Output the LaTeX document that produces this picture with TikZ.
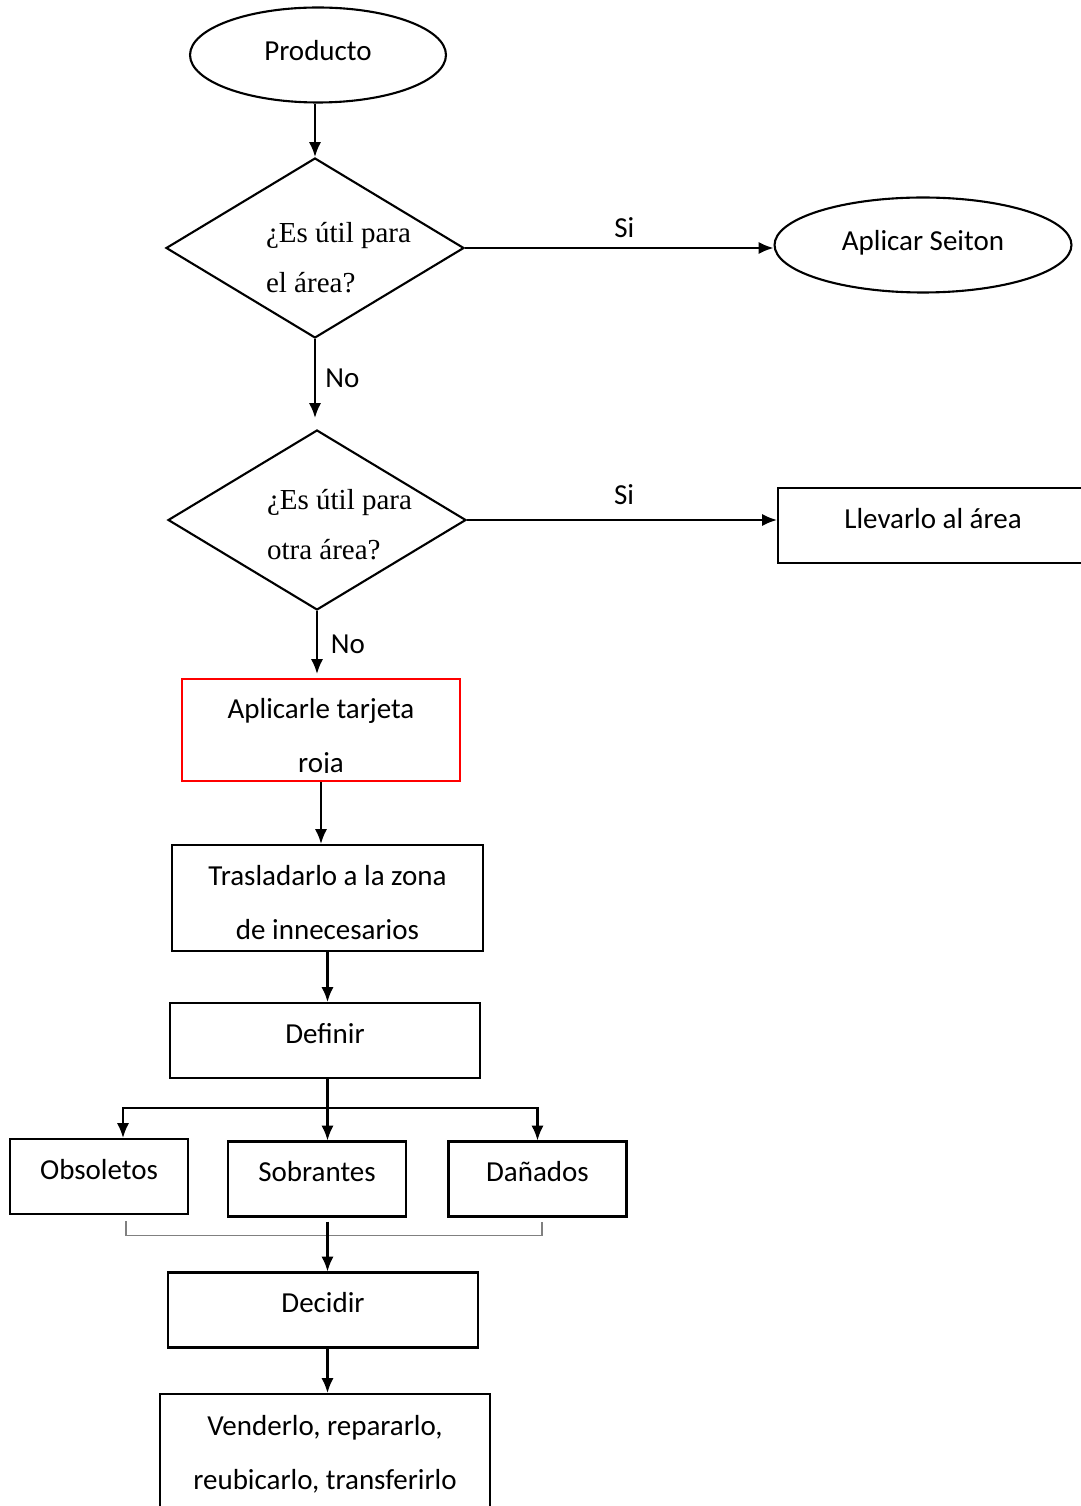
\documentclass[tikz,border=0pt]{standalone}
\usepackage{fontspec}
\setmainfont{Carlito}
\newfontfamily\timesfont{Liberation Serif}
\usepackage{tikz}
\usetikzlibrary{positioning,shapes,arrows.meta,calc}

\begin{document}
\begin{tikzpicture}[x=0.02cm, y=-0.02cm, line width=1.2pt, font=\fontsize{16.5}{30.7}\selectfont]
        \tikzset{
            >={Latex[length=8.5pt,width=7pt]},
            frame/.style={draw, ellipse, minimum width=5.12cm, minimum height=1.9cm, text height=12pt, text depth=6pt},
            decision/.style={draw, diamond, minimum width=5.96cm, minimum height=3.6cm, inner sep=0pt},
            question/.style={font=\timesfont\fontsize{16.5}{28.5}\selectfont, align=left, inner sep=0pt, anchor=west},
            stepbox/.style={draw, rectangle, minimum width=6.2cm, minimum height=1.5cm, text height=12pt, text depth=9pt},
            smallbox/.style={stepbox, minimum width=3.56cm},
            twobox/.style={draw, rectangle, minimum width=6.22cm, minimum height=2.12cm, align=center, text height=47pt},
            bracket/.style={draw=gray, line width=0.6pt},
        }
        \useasboundingbox (0,0) rectangle (1080,1506);

        \node[frame] (producto) at (318,55) {Producto};
        \node[decision] (util) at (315,248) {};
        \node[question] at (265,258) {¿Es útil para\\el área?};
        \node[frame, minimum width=5.94cm] (seiton) at (923,245) {Aplicar Seiton};
        \node[decision] (otra) at (317,520) {};
        \node[question] at (266,525) {¿Es útil para\\otra área?};
        \node[stepbox] (llevar) at (933,525.5) {Llevarlo al área};
        \node[draw=red, minimum width=5.56cm, minimum height=2.04cm] (tarjeta) at (321,730) {};
        \begin{scope}
            \clip (tarjeta.north west) rectangle ([yshift=0.2cm]tarjeta.south east);
            \node[align=center] at (321,738) {Aplicarle tarjeta\\roja};
        \end{scope}
        \node[twobox] (traslado) at (327.5,898) {Trasladarlo a la zona\\de innecesarios};
        \node[stepbox] (definir) at (325,1040.5) {Definir};
        \node[smallbox] (obsoletos) at (99,1176.5) {Obsoletos};
        \node[smallbox] (sobrantes) at (317,1179) {Sobrantes};
        \node[smallbox] (danados) at (537.5,1179) {Dañados};
        \node[stepbox] (decidir) at (323,1310) {Decidir};
        \node[twobox, minimum width=6.6cm, minimum height=2.32cm, text height=44.7pt] (venta) at (325,1452) {Venderlo, repararlo,\\reubicarlo, transferirlo};
        \coordinate (eje) at (traslado.south);

        \draw[->] (util.north |- producto.south) -- (util.north);
        \draw[->] (util.east) -- (util.east -| seiton.west)
            node[midway, above=2pt, xshift=0.1cm] {Si};
        \draw[->, shorten >=0.22cm] (util.south) -- (util.south |- otra.north)
            node[midway, above right=-6pt and 2pt] {No};
        \draw[->] (otra.east) -- (otra.east -| llevar.west)
            node[midway, above=4.5pt, xshift=0.04cm] {Si};
        \draw[->, shorten >=0.08cm] (otra.south) -- (otra.south |- tarjeta.north)
            node[midway, right=4pt] {No};
        \draw[->] (tarjeta.south) -- (tarjeta.south |- traslado.north);
        \draw[->] (eje) -- (eje |- definir.north);
        \draw[->] (eje |- definir.south) -- (eje |- sobrantes.north);
        \coordinate (rama) at (eje |- 0,1108);
        \draw[->] (rama) -| ([xshift=0.48cm]obsoletos.north);
        \draw[->] (rama) -| (danados.north);
        \draw[bracket] ([xshift=0.54cm, yshift=-0.12cm]obsoletos.south) -- ++(0,14)
            -| ([xshift=0.09cm, yshift=-0.08cm]danados.south);
        \draw[->, shorten <=0.08cm] (eje |- sobrantes.south) -- (eje |- decidir.north);
        \draw[->] (eje |- decidir.south) -- (eje |- venta.north);
    \end{tikzpicture}
\end{document}
